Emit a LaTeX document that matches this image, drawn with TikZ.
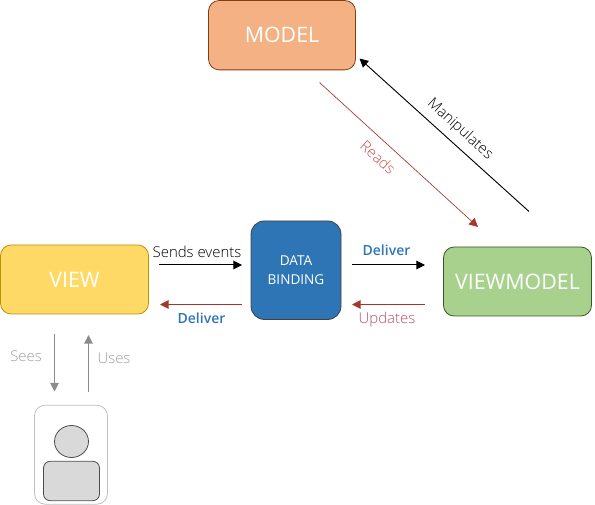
\documentclass[tikz,border=0pt]{standalone}
\usepackage{fontspec}
\setmainfont{Open Sans Light}[BoldFont={Open Sans Semibold}]
\newfontfamily\regf{Open Sans}
\usetikzlibrary{arrows.meta,shapes.geometric}
\definecolor{cView}{HTML}{FFD966}
\definecolor{cViewB}{HTML}{BF9000}
\definecolor{cModel}{HTML}{F4B183}
\definecolor{cModelB}{HTML}{843C0C}
\definecolor{cData}{HTML}{2E75B6}
\definecolor{cDataB}{HTML}{404040}
\definecolor{cVM}{HTML}{A9D18E}
\definecolor{cVMB}{HTML}{385723}
\definecolor{cRed}{HTML}{A5362E}
\definecolor{cBlue}{HTML}{2E75B6}
\definecolor{cGrayT}{HTML}{A09C9C}
\definecolor{cRead}{HTML}{C0504D}
\definecolor{cUpd}{HTML}{B8506A}
\tikzset{
 box/.style={draw,line width=0.6pt,rounded corners=8pt,inner sep=0pt,text=white,align=center},
 bigtext/.style={font=\regf\fontsize{16pt}{18pt}\selectfont},
 conn/.style={line width=0.75pt,-{Triangle[length=6.5pt,width=6.5pt]}},
 redconn/.style={conn,draw=cRed},
 grayconn/.style={conn,draw=gray!90},
 lab/.style={inner sep=0pt,font=\fontsize{11.2pt}{13pt}\selectfont},
 boldlab/.style={inner sep=0pt,text=cBlue,font=\fontsize{10.5pt}{12pt}\bfseries\selectfont},
 person/.style={draw=black!70,fill=black!15,line width=0.6pt,inner sep=0pt},
}
\begin{document}
\begin{tikzpicture}[x=0.75pt,y=-0.75pt]
\useasboundingbox (0,0) rectangle (595,505);
\node[box,bigtext,draw=cViewB,fill=cView,minimum width=111pt,minimum height=51.75pt] (view) at (74.5,279.5) {VIEW};
\node[box,bigtext,draw=cModelB,fill=cModel,minimum width=110.25pt,minimum height=52pt] (model) at (282,35.2) {MODEL};
\node[box,draw=cDataB,fill=cData,minimum width=67.5pt,minimum height=73.9pt,rounded corners=10pt,font=\regf\fontsize{10.2pt}{14pt}\selectfont] (data) at (296,270.2) {DATA\\BINDING};
\node[box,bigtext,draw=cVMB,fill=cVM,minimum width=111pt,minimum height=51.75pt] (vm) at (517.5,281.5) {VIEWMODEL};
\node[draw=black!25,line width=0.6pt,rounded corners=8pt,minimum width=54.75pt,minimum height=74.25pt,inner sep=0pt] (user) at (71,454.7) {};
\node[person,ellipse,minimum width=25.5pt,minimum height=24pt] (head) at (71.5,441.5) {};
\node[person,rounded corners=5pt,minimum width=42pt,minimum height=29.5pt] (body) at (71.5,481) {};
% connector ends
\coordinate (a1) at (159,265); \coordinate (a2) at (242,265);
\coordinate (b1) at (242,304.5); \coordinate (b2) at (160,304.5);
\coordinate (c1) at (351.5,265); \coordinate (c2) at (425,265);
\coordinate (d1) at (425,304.5); \coordinate (d2) at (352,304.5);
\coordinate (e1) at (54.5,334); \coordinate (e2) at (54.5,391.5);
\coordinate (f1) at (88.5,392); \coordinate (f2) at (88.5,335);
\coordinate (g1) at (319.5,82.5); \coordinate (g2) at (478,227);
\coordinate (h1) at (529,211.5); \coordinate (h2) at (359.5,58.5);
\draw[conn] (a1) -- (a2);
\draw[redconn] (b1) -- (b2);
\draw[conn] (c1) -- (c2);
\draw[redconn] (d1) -- (d2);
\draw[grayconn] (e1) -- (e2);
\draw[grayconn] (f1) -- (f2);
\draw[conn,draw=cRed,line width=0.5pt] (g1) -- (g2);
\draw[conn,line width=0.7pt] (h1) -- (h2);
% labels
\node[lab,text=black] (l1) at (197,252) {Sends events};
\node[boldlab] (l2) at (201.5,318.5) {Deliver};
\node[boldlab] (l3) at (386.5,250) {Deliver};
\node[lab,text=cUpd] (l4) at (387,320) {Updates};
\node[lab,text=cGrayT] (l5) at (26,356) {Sees};
\node[lab,text=cGrayT] (l6) at (114,358) {Uses};
\node[lab,text=cRead,rotate=-42] (l7) at (378,157.5) {Reads};
\node[lab,text=black,rotate=-42] (l8) at (460,129.5) {Manipulates};
\end{tikzpicture}
\end{document}
